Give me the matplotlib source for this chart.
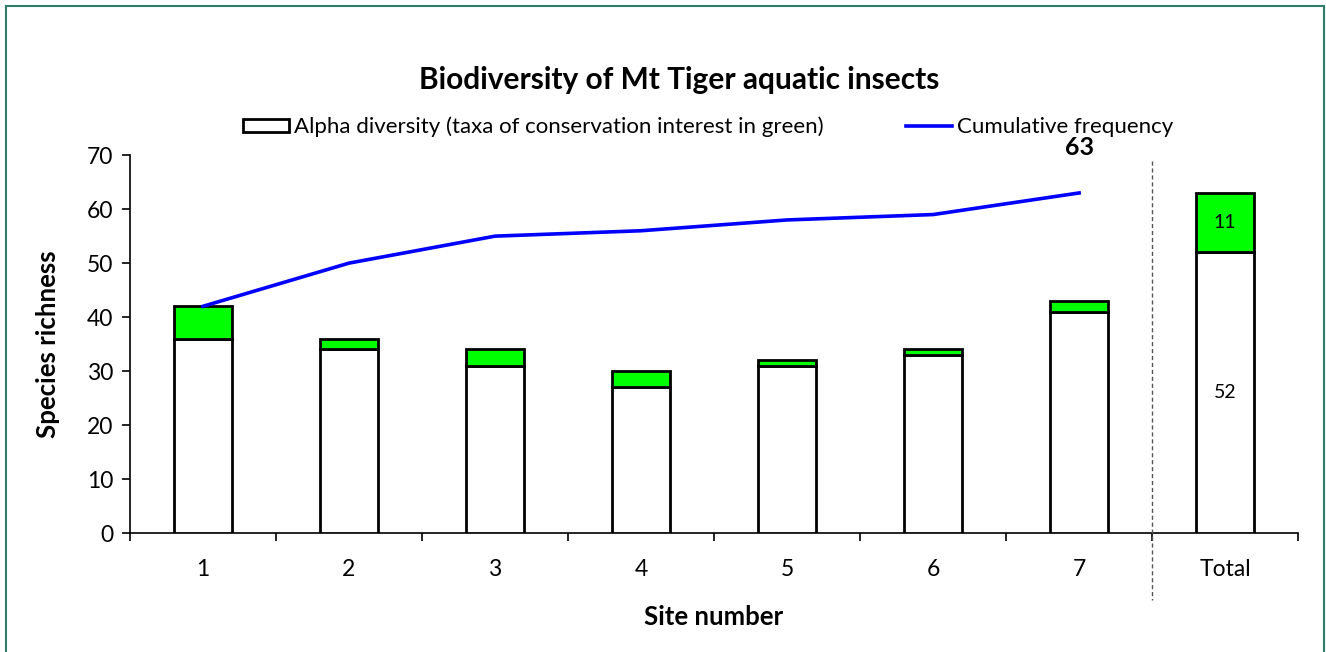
import matplotlib.pyplot as plt
from matplotlib.patches import Rectangle
import numpy as np

plt.rcParams['font.family'] = ['Lato', 'DejaVu Sans']

# data
sites = ["1", "2", "3", "4", "5", "6", "7", "Total"]
alpha_white = [36, 34, 31, 27, 31, 33, 41, 52]
conservation_green = [6, 2, 3, 3, 1, 1, 2, 11]
cumulative = [42, 50, 55, 56, 58, 59, 63]

fig = plt.figure(figsize=(13.26, 6.52), dpi=100)
ax = fig.add_axes([0.098, 0.1825, 0.881, 0.5795])

x = np.arange(len(sites))
bars = ax.bar(x, alpha_white, width=0.4, color="white", edgecolor="black", linewidth=2,
              label="Alpha diversity (taxa of conservation interest in green)", zorder=3)
ax.bar(x, conservation_green, bottom=alpha_white, width=0.4, color="#00FF00",
       edgecolor="black", linewidth=2, zorder=3)

xc = x[:len(cumulative)]
line, = ax.plot(xc, cumulative, color="#0000FF", linewidth=2.6, label="Cumulative frequency",
                zorder=4)
ax.text(xc[-1], cumulative[-1] + 8.5, str(cumulative[-1]), ha="center", va="center",
        fontsize=18, fontweight="bold")

# labels inside the total bar
ax.text(x[-1], alpha_white[-1] / 2, str(alpha_white[-1]), ha="center", va="center", fontsize=14)
ax.text(x[-1], alpha_white[-1] + conservation_green[-1] / 2, str(conservation_green[-1]),
        ha="center", va="center", fontsize=14)

# separator before the total
ax.plot([6.5, 6.5], [69, -12.4], color="#555555", linestyle=(0, (3, 2)), linewidth=1,
        clip_on=False, zorder=5)

ax.set_xlim(-0.5, 7.5)
ax.set_ylim(0, 70)
ax.set_yticks(range(0, 71, 10))
ax.set_xticks(np.arange(-0.5, 8, 1))
ax.set_xticklabels([])
ax.set_xticks(x, minor=True)
ax.set_xticklabels(sites, minor=True)
ax.tick_params(axis="x", which="major", length=6, width=1.2, direction="out")
ax.tick_params(axis="x", which="minor", length=0, pad=19, labelsize=16.5)
ax.tick_params(axis="y", length=6, width=1.2, direction="out", labelsize=16.5, pad=6)

for s in ["top", "right"]:
    ax.spines[s].set_visible(False)
for s in ["left", "bottom"]:
    ax.spines[s].set_linewidth(1.2)

ax.set_xlabel("Site number", fontsize=18.5, fontweight="bold", labelpad=18)
ax.set_ylabel("Species richness", fontsize=18.5, fontweight="bold", labelpad=19)

fig.text(0.512, 0.877, "Biodiversity of Mt Tiger aquatic insects", ha="center", va="center",
         fontsize=21.5, fontweight="bold")

fig.legend(handles=[bars, line], loc="center", bbox_to_anchor=(0.534, 0.805), ncol=2,
           frameon=False, fontsize=16, handlelength=2.07, handleheight=0.55,
           handletextpad=0.22, columnspacing=3.7, borderpad=0, borderaxespad=0)

# outer frame
fig.patches.append(Rectangle((6 / 1326, -0.01), 1318 / 1326, (652 - 6) / 652 + 0.01,
                             transform=fig.transFigure, fill=False,
                             edgecolor="#2E7D6B", linewidth=1.5))

fig.savefig("out.png", dpi=100)
